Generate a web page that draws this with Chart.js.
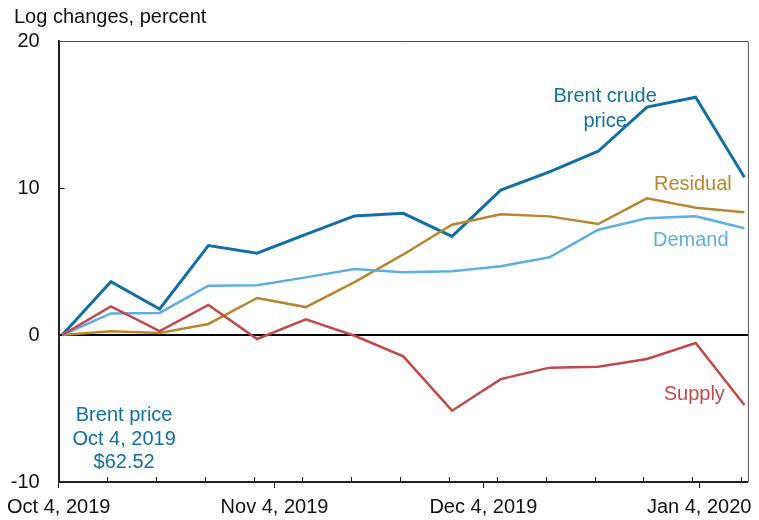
<!DOCTYPE html>
<html>
<head>
<meta charset="utf-8">
<script src="https://cdn.jsdelivr.net/npm/chart.js@4.4.1/dist/chart.umd.min.js"></script>
<style>
    html, body { margin: 0; padding: 0; background: #fff; }
    #wrap { width: 759px; height: 520px; }
</style>
</head>
<body>
<div id="wrap"><canvas id="chart"></canvas></div>
<script>
// Weekly observations (Fridays), Oct 4, 2019 to Jan 10, 2020
const dates = [
    "2019-10-04", "2019-10-11", "2019-10-18", "2019-10-25", "2019-11-01",
    "2019-11-08", "2019-11-15", "2019-11-22", "2019-11-29", "2019-12-06",
    "2019-12-13", "2019-12-20", "2019-12-27", "2020-01-03", "2020-01-10"
];

// Log changes since Oct 4, 2019, percent
const brent    = [0, 3.63, 1.77, 6.08, 5.56, 6.85, 8.10, 8.28, 6.71, 9.86, 11.10, 12.50, 15.50, 16.17, 10.73];
const residual = [0, 0.25, 0.14, 0.75, 2.52, 1.90, 3.60, 5.48, 7.50, 8.21, 8.07, 7.55, 9.30, 8.66, 8.35];
const demand   = [0, 1.47, 1.50, 3.35, 3.38, 3.92, 4.49, 4.27, 4.33, 4.67, 5.29, 7.16, 7.94, 8.07, 7.26];
const supply   = [0, 1.95, 0.27, 2.04, -0.27, 1.07, -0.05, -1.45, -5.15, -3.00, -2.22, -2.16, -1.63, -0.54, -4.76];

// Axis labels
const monthTicks = ["2019-10-04", "2019-11-04", "2019-12-04", "2020-01-04"];
const monthLabels = ["Oct 4, 2019", "Nov 4, 2019", "Dec 4, 2019", "Jan 4, 2020"];
const yTicks = [-10, 0, 10, 20];

const DAY = 86400000;
const start = Date.UTC(2019, 9, 4);
const dayOf = s => (Date.parse(s + "T00:00:00Z") - start) / DAY;

// observations are plotted mid-day, weekly tick marks sit on the day boundary
const series = vals => vals.map((v, i) => ({ x: dayOf(dates[i]) + 0.5, y: v }));
const weekTicks = dates.map(dayOf);
const monthDays = monthTicks.map(dayOf);

const COLORS = {
    brent: "#1270a1",
    residual: "#b8862e",
    demand: "#5eaee2",
    supply: "#c04a48"
};

const FONT = "'Liberation Sans', Arial, sans-serif";

// Frame, inward tick marks and in-chart labels
const decorations = {
    id: "decorations",
    afterDatasetsDraw(chart) {
        const { ctx, chartArea: a, scales: { x, y } } = chart;
        ctx.save();

        // top and right border
        ctx.strokeStyle = "#555";
        ctx.lineWidth = 1;
        ctx.beginPath();
        ctx.moveTo(a.left, a.top + 0.5);
        ctx.lineTo(a.right + 0.5, a.top + 0.5);
        ctx.lineTo(a.right + 0.5, a.bottom);
        ctx.stroke();

        // weekly minor ticks, pointing inward
        ctx.strokeStyle = "#222";
        ctx.lineWidth = 1;
        weekTicks.forEach(d => {
            const px = Math.round(x.getPixelForValue(d)) + 0.5;
            ctx.beginPath();
            ctx.moveTo(px, a.bottom);
            ctx.lineTo(px, a.bottom - 5);
            ctx.stroke();
        });

        // y tick at 10, inward
        const py = Math.round(y.getPixelForValue(10)) + 0.5;
        ctx.beginPath();
        ctx.moveTo(a.left, py);
        ctx.lineTo(a.left + 6, py);
        ctx.stroke();

        // y-axis title
        ctx.font = "20px " + FONT;
        ctx.fillStyle = "#111";
        ctx.textAlign = "left";
        ctx.textBaseline = "middle";
        ctx.fillText("Log changes, percent", 14, 17);

        // series labels
        ctx.textAlign = "center";
        const label = (txt, color, xv, yv) => {
            ctx.fillStyle = color;
            ctx.fillText(txt, x.getPixelForValue(xv), y.getPixelForValue(yv));
        };
        label("Brent crude", COLORS.brent, 78.5, 16.2);
        label("price", COLORS.brent, 78.5, 14.55);
        label("Residual", COLORS.residual, 91.1, 10.27);
        label("Demand", COLORS.demand, 90.8, 6.4);
        label("Supply", COLORS.supply, 91.3, -4.02);
        label("Brent price", COLORS.brent, 9.4, -5.5);
        label("Oct 4, 2019", COLORS.brent, 9.4, -7.1);
        label("$62.52", COLORS.brent, 9.4, -8.65);

        ctx.restore();
    }
};

const ds = (label, data, color, width) => ({
    label,
    data: series(data),
    borderColor: color,
    backgroundColor: color,
    borderWidth: width,
    pointRadius: 0,
    tension: 0,
    borderJoinStyle: "miter",
    clip: false
});

new Chart(document.getElementById("chart"), {
    type: "line",
    data: {
        datasets: [
            ds("Supply", supply, COLORS.supply, 2.5),
            ds("Demand", demand, COLORS.demand, 2.5),
            ds("Residual", residual, COLORS.residual, 2.5),
            ds("Brent crude price", brent, COLORS.brent, 3)
        ]
    },
    options: {
        responsive: true,
        maintainAspectRatio: false,
        animation: false,
        events: [],
        layout: { padding: { top: 41, right: 10, left: 9, bottom: 0 } },
        plugins: {
            legend: { display: false },
            tooltip: { enabled: false }
        },
        scales: {
            x: {
                type: "linear",
                min: 0,
                max: 99,
                afterBuildTicks: scale => {
                    scale.ticks = monthDays.map(v => ({ value: v }));
                },
                afterFit: scale => { scale.height = 38; },
                ticks: {
                    autoSkip: false,
                    maxRotation: 0,
                    padding: 7,
                    color: "#111",
                    font: { family: FONT, size: 20 },
                    callback: (v, i) => monthLabels[i]
                },
                grid: {
                    drawOnChartArea: false,
                    drawTicks: true,
                    tickLength: 6,
                    tickColor: "#222",
                    tickWidth: 1
                },
                border: { color: "#222", width: 2 }
            },
            y: {
                min: -10,
                max: 20,
                afterBuildTicks: scale => {
                    scale.ticks = yTicks.map(v => ({ value: v }));
                },
                afterFit: scale => { scale.width = 48; },
                ticks: {
                    padding: 19,
                    color: "#111",
                    font: { family: FONT, size: 20 }
                },
                grid: {
                    drawTicks: false,
                    color: ctx => ctx.tick && ctx.tick.value === 0 ? "#000" : "rgba(0,0,0,0)",
                    lineWidth: 2
                },
                border: { color: "#222", width: 2 }
            }
        }
    },
    plugins: [decorations]
});
</script>
</body>
</html>
